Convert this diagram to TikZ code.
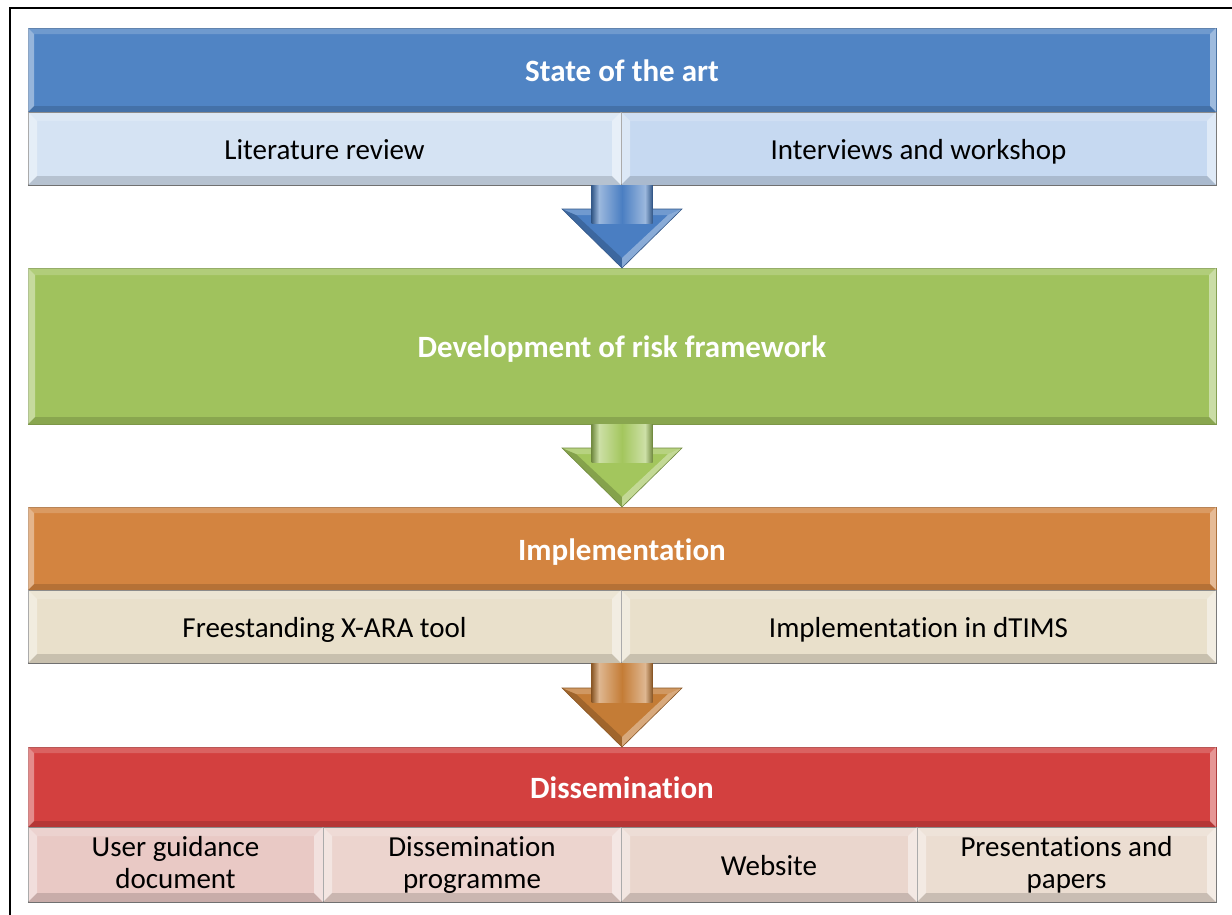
\documentclass[tikz,border=0pt]{standalone}
\usepackage{fontspec}
\setmainfont{Carlito}[RawFeature={-liga;-clig}]
\usetikzlibrary{calc}

% header colours
\definecolor{hdBlue}{HTML}{5084C4}
\definecolor{hdGreen}{HTML}{A0C25D}
\definecolor{hdOrange}{HTML}{D38440}
\definecolor{hdRed}{HTML}{D3403F}
% sub-row colours
\definecolor{sbBlueA}{HTML}{D5E3F3}
\definecolor{sbBlueB}{HTML}{C6D9F1}
\definecolor{sbSand}{HTML}{E9E0CB}
\definecolor{sbPinkA}{HTML}{E9C9C5}
\definecolor{sbPinkB}{HTML}{ECD4CE}
\definecolor{sbPinkC}{HTML}{EAD6CD}
\definecolor{sbPinkD}{HTML}{EBDDD1}
% arrow colours
\definecolor{arBlue}{HTML}{4A7EC2}
\definecolor{arGreen}{HTML}{A3C65D}
\definecolor{arOrange}{HTML}{C47C36}

% strut centred on the capital letters
\newcommand\capstrut{\rule[-0.25em]{0pt}{1.144em}}

\tikzset{
  headbox/.style={inner sep=0pt, outer sep=0pt, line width=0.8pt,
    text=white, font=\bfseries\fontsize{31}{36}\selectfont},
  subbox/.style={inner sep=0pt, outer sep=0pt, line width=0.8pt,
    draw=black!55, text=black, align=center,
    font=\fontsize{29}{32}\selectfont},
  label/.style={execute at begin node=\capstrut, execute at end node=\capstrut,
    yshift=-2pt},
}

% bevelled box: name, x1, y1, x2, y2, fill, bevel width, style, text
\newcommand\bevelbox[9]{%
  \node[#8, fill=#6, anchor=north west,
        minimum width={#4pt-#2pt}, minimum height={#5pt-#3pt}] (#1) at (#2,#3) {};
  % left face
  \fill[white, fill opacity=.40] (#1.north west) -- ($(#1.north west)+(#7,#7)$)
     -- ($(#1.south west)+(#7,-#7)$) -- (#1.south west) -- cycle;
  % top face
  \fill[white, fill opacity=.18] (#1.north west) -- (#1.north east)
     -- ($(#1.north east)+(-#7,#7)$) -- ($(#1.north west)+(#7,#7)$) -- cycle;
  % right face
  \fill[white, fill opacity=.45] (#1.north east) -- ($(#1.north east)+(-#7,#7)$)
     -- ($(#1.south east)+(-#7,-#7)$) -- (#1.south east) -- cycle;
  % bottom face
  \fill[black, fill opacity=.14] (#1.south west) -- (#1.south east)
     -- ($(#1.south east)+(-#7,-#7)$) -- ($(#1.south west)+(#7,-#7)$) -- cycle;
  \node[#8, label, fill=none, draw=none, anchor=center] at (#1.center) {#9};
}

% block arrow from the bottom of one box to the top of the next
\newcommand\blockarrow[3]{%
  \coordinate (#2-top) at (#2.north |- #1.south);
  \coordinate (#2-tip) at (#2.north);
  \coordinate (#2-ht) at ($(#2.north)+(0,-59)$);
  % body
  \fill[#3] ($(#2-top)+(-30.5,0)$) -- ($(#2-ht)+(-30.5,0)$) -- ($(#2-ht)+(-60,0)$)
     -- (#2-tip) -- ($(#2-ht)+(60,0)$) -- ($(#2-ht)+(30.5,0)$)
     -- ($(#2-top)+(30.5,0)$) -- cycle;
  % bevel of the head
  \fill[black, fill opacity=.18] ($(#2-ht)+(-60,0)$) -- (#2-tip)
     -- ($(#2-tip)+(0,-10)$) -- ($(#2-ht)+(-46,6)$) -- cycle;
  \fill[white, fill opacity=.35] ($(#2-ht)+(60,0)$) -- (#2-tip)
     -- ($(#2-tip)+(0,-10)$) -- ($(#2-ht)+(46,6)$) -- cycle;
  \fill[white, fill opacity=.22] ($(#2-ht)+(-60,0)$) -- ($(#2-ht)+(60,0)$)
     -- ($(#2-ht)+(46,6)$) -- ($(#2-ht)+(-46,6)$) -- cycle;
  % rounded shaft
  \shade[left color=#3!70!black, right color=#3!55!white]
     ($(#2-top)+(-30.5,0)$) rectangle ($(#2-ht)+(-23,14)$);
  \shade[left color=#3!55!white, right color=#3!55!white, middle color=#3]
     ($(#2-top)+(-23,0)$) rectangle ($(#2-ht)+(23,14)$);
  \shade[left color=#3!55!white, right color=#3!70!black]
     ($(#2-top)+(23,0)$) rectangle ($(#2-ht)+(30.5,14)$);
  \draw[#3!70!black, line width=0.6pt, line join=miter]
     ($(#2-top)+(-30.5,0)$) -- ($(#2-ht)+(-30.5,0)$) -- ($(#2-ht)+(-60,0)$)
     -- (#2-tip) -- ($(#2-ht)+(60,0)$) -- ($(#2-ht)+(30.5,0)$)
     -- ($(#2-top)+(30.5,0)$);
}

\begin{document}
\begin{tikzpicture}[x=1pt, y=-1pt]
  \useasboundingbox (0,0) rectangle (1232,914);
  \clip (0,0) rectangle (1232,914);
  \fill[white] (0,0) rectangle (1232,914);

  % outer frame
  \draw[line width=1.6pt] (10,8) rectangle (1260,940);

  % stage 1
  \bevelbox{sota}{28}{28}{1216}{112}{hdBlue}{6}{headbox, draw=hdBlue!80!black}{State of the art}
  \bevelbox{lit}{28}{112}{621}{185}{sbBlueA}{9}{subbox}{Literature review}
  \bevelbox{intv}{621}{112}{1216}{185}{sbBlueB}{9}{subbox}{Interviews and workshop}

  % stage 2
  \bevelbox{dev}{28}{268}{1216}{424}{hdGreen}{7}{headbox, draw=hdGreen!80!black}{Development of risk framework}

  % stage 3
  \bevelbox{impl}{28}{507}{1216}{590}{hdOrange}{6}{headbox, draw=hdOrange!80!black}{Implementation}
  \bevelbox{xara}{28}{590}{621}{663}{sbSand}{9}{subbox}{Freestanding X-ARA tool}
  \bevelbox{dtims}{621}{590}{1216}{663}{sbSand}{9}{subbox}{Implementation in dTIMS}

  % stage 4
  \bevelbox{diss}{28}{747}{1216}{827}{hdRed}{6}{headbox, draw=hdRed!80!black}{Dissemination}
  \bevelbox{guide}{28}{827}{323}{902}{sbPinkA}{9}{subbox}{User guidance\\document}
  \bevelbox{prog}{323}{827}{621}{902}{sbPinkB}{9}{subbox}{Dissemination\\programme}
  \bevelbox{web}{621}{827}{917}{902}{sbPinkC}{9}{subbox}{Website}
  \bevelbox{pres}{917}{827}{1216}{902}{sbPinkD}{9}{subbox}{Presentations and\\papers}

  % arrows between the stages
  \blockarrow{lit}{dev}{arBlue}
  \blockarrow{dev}{impl}{arGreen}
  \blockarrow{xara}{diss}{arOrange}
\end{tikzpicture}
\end{document}
